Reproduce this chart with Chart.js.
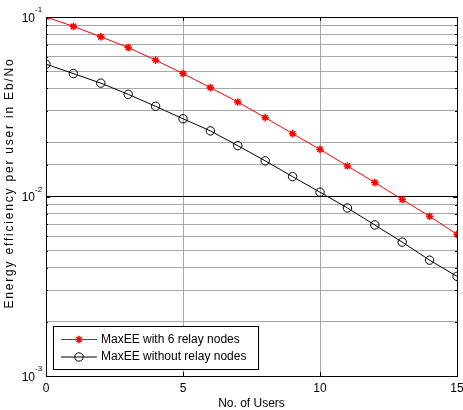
<!DOCTYPE html>
<html>
<head>
<meta charset="utf-8">
<script src="https://cdn.jsdelivr.net/npm/chart.js@4/dist/chart.umd.min.js"></script>
<style>
html,body{margin:0;padding:0;background:#fff;}
#wrap{width:463px;height:410px;}
</style>
</head>
<body>
<div id="wrap"><canvas id="c" width="463" height="410"></canvas></div>
<script>
const users = [0,1,2,3,4,5,6,7,8,9,10,11,12,13,14,15];
const maxEEWithRelay = [0.1,0.0886,0.0776,0.0676,0.0575,0.0484,0.0404,0.0336,0.0275,0.0224,0.0183,0.0148,0.01197,0.00962,0.00776,0.00615];
const maxEEWithoutRelay = [0.0546,0.0484,0.0428,0.0371,0.0318,0.0271,0.0232,0.0192,0.0158,0.0129,0.01057,0.00863,0.00694,0.00557,0.00442,0.00359];
const seriesLabels = ['MaxEE with 6 relay nodes','MaxEE without relay nodes'];
const yTickExponents = [-1,-2,-3];
const xTickStep = 5;
const yTitle = 'Energy efficiency per user in Eb/No';
const FONT = 'Liberation Sans, Arial, sans-serif';

const boxPlugin = {
  id: 'matlabBox',
  afterDraw(chart) {
    const ctx = chart.ctx;
    const a = chart.chartArea;
    const ys = chart.scales.y;
    const xs = chart.scales.x;
    ctx.save();
    // inward ticks
    ctx.strokeStyle = '#000';
    ctx.lineWidth = 1;
    ctx.beginPath();
    for (let v = xs.min; v <= xs.max; v += xTickStep) {
      const px = Math.round(xs.getPixelForValue(v)) + 0.5;
      ctx.moveTo(px, a.bottom); ctx.lineTo(px, a.bottom - 4);
      ctx.moveTo(px, a.top); ctx.lineTo(px, a.top + 4);
    }
    ys.ticks.forEach(t => {
      const py = Math.round(ys.getPixelForValue(t.value)) + 0.5;
      const major = Math.abs(Math.log10(t.value) - Math.round(Math.log10(t.value))) < 1e-9;
      const len = major ? 4 : 2;
      ctx.moveTo(a.left, py); ctx.lineTo(a.left + len, py);
      ctx.moveTo(a.right, py); ctx.lineTo(a.right - len, py);
    });
    ctx.stroke();
    // frame
    ctx.strokeRect(Math.round(a.left)+0.5, Math.round(a.top)+0.5, Math.round(a.right-a.left), Math.round(a.bottom-a.top));
    // y tick labels 10^n
    ctx.fillStyle = '#000';
    yTickExponents.forEach(e => {
      const py = ys.getPixelForValue(Math.pow(10, e));
      ctx.font = '12px ' + FONT;
      ctx.textAlign = 'right';
      ctx.textBaseline = 'middle';
      ctx.fillText('10', 35, py + 1.5);
      ctx.font = '8px ' + FONT;
      ctx.textAlign = 'left';
      ctx.fillText(String(e), 35, py - 7);
    });
    // y title (letter-spaced)
    ctx.save();
    ctx.translate(10, 183);
    ctx.rotate(-Math.PI / 2);
    ctx.font = '12px ' + FONT;
    ctx.textAlign = 'center';
    ctx.textBaseline = 'middle';
    try { ctx.letterSpacing = '1.8px'; } catch (err) {}
    ctx.fillText(yTitle, 0, 0);
    ctx.restore();
    // legend
    const lx = 53, ly = 326, lw = 205, lh = 43;
    ctx.fillStyle = '#fff';
    ctx.fillRect(lx, ly, lw, lh);
    ctx.strokeStyle = '#000';
    ctx.lineWidth = 1;
    ctx.strokeRect(lx + 0.5, ly + 0.5, lw, lh);
    chart.data.datasets.forEach((ds, i) => {
      const cy = ly + 13.5 + i * 17.5;
      ctx.strokeStyle = ds.borderColor;
      ctx.lineWidth = 1;
      ctx.beginPath();
      ctx.moveTo(61, cy); ctx.lineTo(97, cy);
      ctx.stroke();
      ctx.lineWidth = ds.pointBorderWidth;
      ctx.beginPath();
      if (ds.pointStyle === 'circle') {
        ctx.arc(79, cy, ds.pointRadius, 0, Math.PI * 2);
      } else {
        const r = ds.pointRadius;
        ctx.moveTo(79 - r, cy); ctx.lineTo(79 + r, cy);
        ctx.moveTo(79, cy - r); ctx.lineTo(79, cy + r);
        const d = r * Math.SQRT1_2;
        ctx.moveTo(79 - d, cy - d); ctx.lineTo(79 + d, cy + d);
        ctx.moveTo(79 - d, cy + d); ctx.lineTo(79 + d, cy - d);
      }
      ctx.stroke();
      ctx.fillStyle = '#000';
      ctx.font = '12px ' + FONT;
      ctx.textAlign = 'left';
      ctx.textBaseline = 'middle';
      ctx.fillText(ds.label, 101, cy);
    });
    ctx.restore();
  }
};

const chart = new Chart(document.getElementById('c'), {
  type: 'line',
  data: {
    datasets: [
      {
        label: seriesLabels[0],
        data: users.map((u, i) => ({x: u, y: maxEEWithRelay[i]})),
        borderColor: '#ff0000',
        backgroundColor: '#ff0000',
        borderWidth: 1,
        pointStyle: 'star',
        pointRadius: 3.8,
        pointBorderWidth: 1.5,
        pointBackgroundColor: '#ff0000',
        pointBorderColor: '#ff0000',
        tension: 0
      },
      {
        label: seriesLabels[1],
        data: users.map((u, i) => ({x: u, y: maxEEWithoutRelay[i]})),
        borderColor: '#000000',
        backgroundColor: 'rgba(0,0,0,0)',
        borderWidth: 1,
        pointStyle: 'circle',
        pointRadius: 4.2,
        pointBorderWidth: 1,
        pointBackgroundColor: 'rgba(0,0,0,0)',
        pointBorderColor: '#000000',
        tension: 0
      }
    ]
  },
  options: {
    responsive: false,
    animation: false,
    devicePixelRatio: 1,
    layout: {padding: {top: 17, right: 6, left: 0, bottom: 0}},
    plugins: {legend: {display: false}, tooltip: {enabled: false}},
    scales: {
      x: {
        type: 'linear',
        min: 0, max: 15,
        border: {display: false},
        grid: {color: '#a8a8a8', drawTicks: false, lineWidth: 1},
        ticks: {stepSize: xTickStep, padding: 5, color: '#000', font: {family: FONT, size: 12}, maxRotation: 0},
        title: {display: true, text: 'No. of Users', color: '#000', font: {family: FONT, size: 12}, padding: {top: 0, bottom: -1}},
        afterFit(s) { s.height = 34; s.paddingLeft = 0; s.paddingRight = 0; }
      },
      y: {
        type: 'logarithmic',
        min: 0.001, max: 0.1,
        border: {display: false},
        grid: {
          drawTicks: false,
          lineWidth: 1,
          color: (c) => {
            const v = c.tick ? c.tick.value : 1;
            const l = Math.log10(v);
            return Math.abs(l - Math.round(l)) < 1e-9 ? '#000' : '#a8a8a8';
          }
        },
        ticks: {display: false},
        title: {display: false, text: yTitle},
        afterFit(s) { s.width = 46; s.paddingTop = 0; s.paddingBottom = 0; }
      }
    }
  },
  plugins: [boxPlugin]
});
</script>
</body>
</html>
